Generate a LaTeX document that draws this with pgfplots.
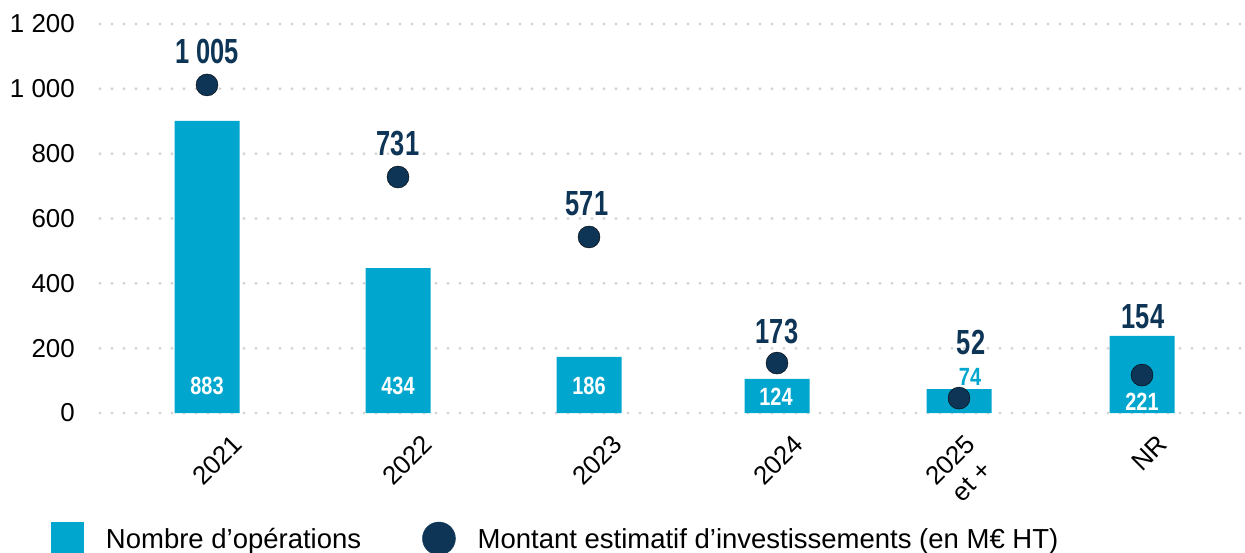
\documentclass[border=0pt]{standalone}
\usepackage{pgfplots}
\usepackage{pgfplotstable}
\pgfplotsset{compat=1.18}
\usepackage{fontspec}
\setmainfont{Liberation Sans}
\definecolor{barblue}{RGB}{0,166,206}
\definecolor{navy}{RGB}{14,53,86}
\definecolor{gridgray}{RGB}{212,212,212}

\pgfplotstableread{
x y
207 901
398 447
589 173
777 105
959 74
1142 238
}\barsdata

\pgfplotstableread{
x y
207 1012
398 728
589 543
777 154
959 46
1142 117
}\dotsdata

\begin{document}
\begin{tikzpicture}
\useasboundingbox (0,0) rectangle (1245bp,-553bp);
\clip (0,0) rectangle (1245bp,-553bp);
\begin{axis}[
  at={(100bp,-413bp)}, anchor=south west,
  scale only axis, width=1145bp, height=389bp,
  xmin=100, xmax=1245, ymin=0, ymax=1200,
  clip=false,
  axis line style={draw=none},
  major tick length=0pt,
  ytick={0,200,...,1200},
  scaled y ticks=false,
  /pgf/number format/assume math mode=true,
  /pgf/number format/1000 sep={\ },
  ymajorgrids,
  grid style={gridgray, line width=3.3bp, line cap=round, dash pattern=on 0bp off 12bp},
  xtick={231,421,611,792,964,1156},
  xticklabels={2021,2022,2023,2024,{2025\\et +},NR},
  tick label style={font=\fontsize{26}{30}\selectfont},
  xticklabel style={yshift=-20bp, rotate=45, anchor=north east, inner sep=0pt, align=center},
  yticklabel style={anchor=east, inner sep=0pt, xshift=-25bp},
  legend columns=2,
  legend style={at={(-0.0428,-0.3226)}, anchor=west, draw=none, fill=none,
    inner sep=0pt, outer sep=0pt,
    font=\fontsize{27.6}{31}\selectfont,
    nodes={inner sep=0pt},
    /tikz/every odd column/.append style={column sep=22bp},
    /tikz/every even column/.append style={column sep=61bp}},
]
\addplot[ybar, bar width=65, bar shift=0pt, fill=barblue, draw=none,
  legend image code/.code={\fill[barblue] (0bp,-16bp) rectangle (33bp,17bp);}]
  table[x=x,y=y] {\barsdata};
\addlegendentry{Nombre d’opérations}
\addplot[only marks, mark=*, mark size=11bp, mark options={fill=navy, draw=none},
  legend image code/.code={\fill[navy] (16.5bp,0.5bp) circle[radius=16.5bp];}]
  table[x=x,y=y] {\dotsdata};
\addlegendentry{Montant estimatif d’investissements (en M€ HT)}

% value labels (dark)
\addplot[draw=none, mark=none, forget plot, point meta=explicit symbolic,
  nodes near coords={\scalebox{0.73}[1]{\pgfplotspointmeta}},
  nodes near coords style={anchor=center, inner sep=0pt, text=navy,
    font=\fontsize{35}{35}\selectfont\bfseries}]
  coordinates {(207,1114)[1 005] (398,830)[731] (587,645)[571] (777,250)[173] (971,216)[52] (1143,296)[154]};
% value labels (white, inside bars)
\addplot[draw=none, mark=none, forget plot, point meta=explicit symbolic,
  nodes near coords={\scalebox{0.8}[1]{\pgfplotspointmeta}},
  nodes near coords style={anchor=center, inner sep=0pt, text=white,
    font=\fontsize{25}{25}\selectfont\bfseries}]
  coordinates {(207,85)[883] (398,85)[434] (589,85)[186] (776,49)[124] (1142,34)[221]};
% value label (light blue)
\addplot[draw=none, mark=none, forget plot, point meta=explicit symbolic,
  nodes near coords={\scalebox{0.8}[1]{\pgfplotspointmeta}},
  nodes near coords style={anchor=center, inner sep=0pt, text=barblue,
    font=\fontsize{25}{25}\selectfont\bfseries}]
  coordinates {(970,111)[74]};
\end{axis}
\end{tikzpicture}
\end{document}
